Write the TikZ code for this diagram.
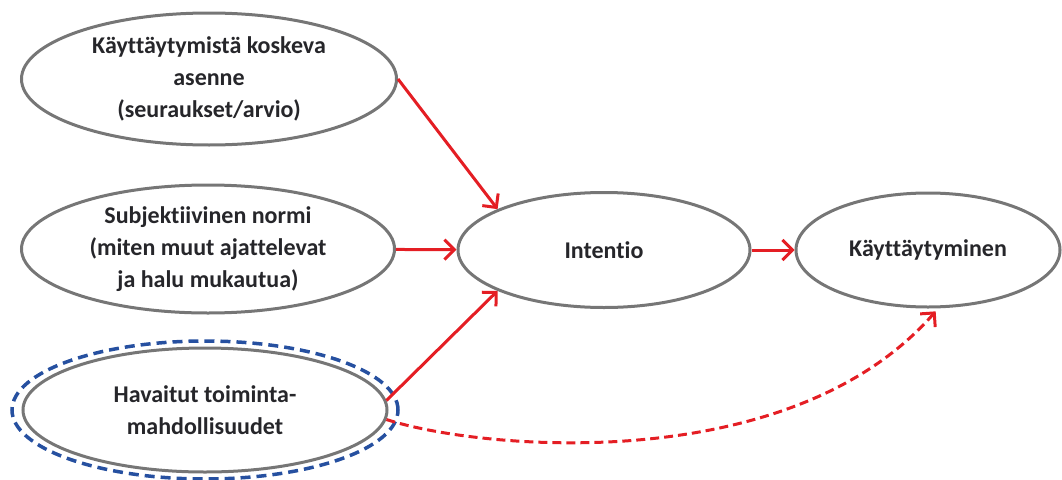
\documentclass[tikz,border=0pt]{standalone}
\usepackage{fontspec}
\setmainfont{Carlito}[Ligatures=NoCommon]
\usetikzlibrary{shapes.geometric, arrows.meta, positioning}
\definecolor{linegray}{RGB}{118,118,118}
\definecolor{arrowred}{RGB}{228,30,36}
\definecolor{dashblue}{RGB}{38,80,160}
\definecolor{textgray}{RGB}{38,38,42}

\begin{document}
\begin{tikzpicture}[x=1pt, y=-1pt, font=\fontsize{24}{32}\selectfont\bfseries, align=center,
  factor/.style={draw=linegray, line width=3pt, shape=ellipse, inner sep=0pt, text=textgray},
  effect/.style={draw=arrowred, line width=3pt, -{Straight Barb[length=10pt, width=20pt]}},
  weakeffect/.style={effect, dash pattern=on 9pt off 5pt}]

      \useasboundingbox (0,0) rectangle (1062,479);

      \node[factor, minimum width=375, minimum height=132] (asenne) at (209,79) {Käyttäytymistä koskeva\\asenne\\(seuraukset/arvio)};
      \node[factor, minimum width=373, minimum height=128] (normi) at (208,249) {Subjektiivinen normi\\(miten muut ajattelevat\\ja halu mukautua)};
      \node[factor, minimum width=364, minimum height=124] (kontrolli) at (205,410) {Havaitut toiminta-\\mahdollisuudet};
      \node[draw=dashblue, line width=3.5pt, dash pattern=on 10pt off 6pt, shape=ellipse, minimum width=386, minimum height=138] (rajaus) at (kontrolli) {};

      \node[factor, minimum width=292, minimum height=115] (intentio) at (604,250) {Intentio};
      \node[factor, minimum width=264, minimum height=114, right=43pt of intentio] (kaytos) {Käyttäytyminen};

      \draw[effect] (asenne.east) -- (intentio.159);
      \draw[effect] (normi) -- (intentio);
      \draw[effect] (kontrolli.3) -- (intentio.201);
      \draw[effect] (intentio) -- (kaytos);
      \draw[weakeffect, shorten >=4pt] (kontrolli.-3) .. controls (480,450) and (790,478) .. (kaytos.-80);
\end{tikzpicture}
\end{document}
